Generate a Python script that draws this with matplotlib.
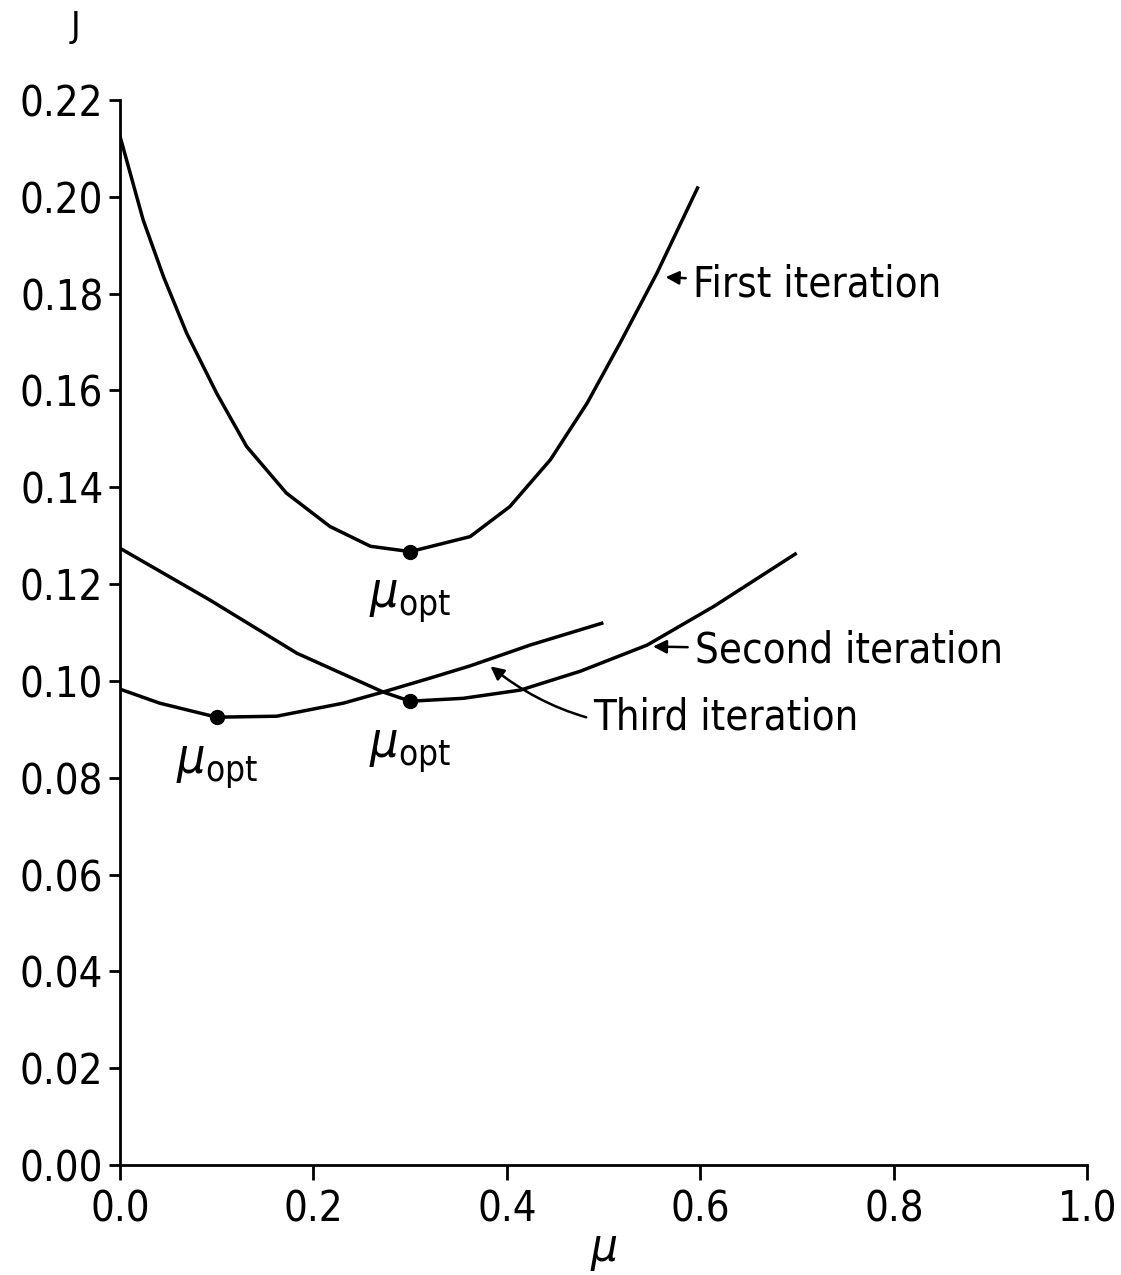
import matplotlib
matplotlib.use("Agg")
import matplotlib.pyplot as plt
import numpy as np

plt.rcParams['font.family'] = ['DejaVu Sans']
plt.rcParams['font.stretch'] = 'condensed'

# first iteration
mu1 = [0.0, 0.002, 0.024, 0.045, 0.069, 0.100, 0.131, 0.172, 0.217, 0.259, 0.300,
       0.362, 0.403, 0.445, 0.483, 0.517, 0.555, 0.597]
J1 = [0.2125, 0.2111, 0.1952, 0.1835, 0.1718, 0.1594, 0.1484, 0.1388, 0.1319, 0.1278, 0.1267,
      0.1298, 0.1360, 0.1457, 0.1574, 0.1698, 0.1842, 0.2018]

# second iteration
mu2 = [0.0, 0.093, 0.183, 0.272, 0.300, 0.355, 0.414, 0.476, 0.545, 0.614, 0.698]
J2 = [0.1274, 0.1167, 0.1057, 0.0977, 0.0958, 0.0964, 0.0981, 0.1020, 0.1074, 0.1154, 0.1262]

# third iteration
mu3 = [0.0, 0.041, 0.100, 0.162, 0.231, 0.272, 0.321, 0.362, 0.424, 0.498]
J3 = [0.0983, 0.0954, 0.0925, 0.0927, 0.0954, 0.0977, 0.1006, 0.1031, 0.1074, 0.1119]

# optimum points
opt_mu = [0.30, 0.10, 0.30]
opt_J = [0.1267, 0.0925, 0.0958]

xticks = [0.0, 0.2, 0.4, 0.6, 0.8, 1.0]
yticks = [0.00, 0.02, 0.04, 0.06, 0.08, 0.10, 0.12, 0.14, 0.16, 0.18, 0.20, 0.22]

fig = plt.figure(figsize=(11.21, 12.75), dpi=100)
ax = fig.add_axes([0.107, 0.0863, 0.863, 0.8353])

lw = 2.5
ax.plot(mu1, J1, c='black', lw=lw, solid_joinstyle='round')
ax.plot(mu2, J2, c='black', lw=lw, solid_joinstyle='round')
ax.plot(mu3, J3, c='black', lw=lw, solid_joinstyle='round')
ax.plot(opt_mu, opt_J, 'o', c='black', ms=10)

ax.set_xlim(0, 1.0)
ax.set_ylim(0, 0.22)
ax.spines['top'].set_visible(False)
ax.spines['right'].set_visible(False)
ax.spines['left'].set_linewidth(2)
ax.spines['bottom'].set_linewidth(2)
ax.set_xticks(xticks)
ax.set_xticklabels(["%.1f" % v for v in xticks])
ax.set_yticks(yticks)
ax.set_yticklabels(["%.2f" % v for v in yticks])
ax.tick_params(axis='both', direction='out', width=2, labelsize=30)
ax.tick_params(axis='x', length=11, pad=6)
ax.tick_params(axis='y', length=8, pad=4)

ax.set_xlabel(r"$\mu$", fontsize=34, labelpad=-2)
fig.text(0.067, 0.992, "J", fontsize=26, ha='center', va='top')

# mu_opt labels
opt_txt = r"$\mu_{\rm opt}$"
ax.text(0.30, 0.1215, opt_txt, fontsize=36, ha='center', va='top')
ax.text(0.10, 0.0872, opt_txt, fontsize=36, ha='center', va='top')
ax.text(0.30, 0.0905, opt_txt, fontsize=36, ha='center', va='top')

arrow = dict(arrowstyle='-|>,head_length=0.5,head_width=0.25', color='black', lw=1.8,
             shrinkA=3, shrinkB=0, mutation_scale=16)
ax.annotate("First iteration", xy=(0.564, 0.1834), xytext=(0.592, 0.1818),
            fontsize=30, va='center', ha='left', arrowprops=arrow)
ax.annotate("Second iteration", xy=(0.551, 0.1071), xytext=(0.594, 0.1063),
            fontsize=30, va='center', ha='left', arrowprops=arrow)
ax.annotate("Third iteration", xy=(0.383, 0.1030), xytext=(0.489, 0.0925),
            fontsize=30, va='center', ha='left',
            arrowprops=dict(arrow, connectionstyle="arc3,rad=-0.25"))

fig.savefig("out.png", dpi=100)
